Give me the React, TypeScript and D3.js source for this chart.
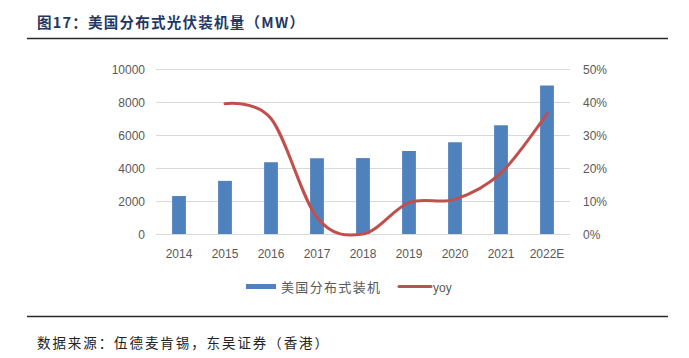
import { useEffect, useRef } from "react";
import * as d3 from "d3";

const YEARS = ["2014", "2015", "2016", "2017", "2018", "2019", "2020", "2021", "2022E"];
const CAPACITY = [2300, 3220, 4350, 4590, 4600, 5030, 5560, 6590, 9000];
const YOY_YEARS = ["2015", "2016", "2017", "2018", "2019", "2020", "2021", "2022E"];
const YOY = [0.395, 0.35, 0.05, 0.0, 0.095, 0.105, 0.185, 0.365];
const LEFT_TICKS = [0, 2000, 4000, 6000, 8000, 10000];
const RIGHT_TICKS = [0, 0.1, 0.2, 0.3, 0.4, 0.5];

const W = 689, H = 358;
const PLOT = { left: 156, right: 570, top: 69, bottom: 234 };
const BAR = "#4f81bd";
const LINE = "#c0504d";
const AXIS_TXT = "#595959";
const FONT = "'Liberation Sans', Arial, sans-serif";
const CJK = "'Noto Sans CJK SC', sans-serif";

export default function App() {
  const ref = useRef<SVGSVGElement>(null);

  useEffect(() => {
    if (!ref.current) return;
    const svg = d3.select(ref.current);
    svg.selectAll("*").remove();

    const x = d3.scaleBand().domain(YEARS).range([PLOT.left, PLOT.right]).paddingInner(0.7).paddingOuter(0.35);
    const y = d3.scaleLinear().domain([0, 10000]).range([PLOT.bottom, PLOT.top]);
    const y2 = d3.scaleLinear().domain([0, 0.5]).range([PLOT.bottom, PLOT.top]);
    const cx = (k: string) => x(k)! + x.bandwidth() / 2;

    // title + rules
    svg.append("text").attr("x", 37).attr("y", 28).attr("font-family", CJK)
      .attr("font-size", "14.5px").attr("font-weight", "700").attr("fill", "#1f3864")
      .attr("textLength", 267).attr("lengthAdjust", "spacing")
      .text("图17：美国分布式光伏装机量（MW）");
    svg.append("line").attr("x1", 27).attr("x2", 668).attr("y1", 38.5).attr("y2", 38.5)
      .attr("stroke", "#2b2b2b").attr("stroke-width", 1.6);
    svg.append("line").attr("x1", 27).attr("x2", 668).attr("y1", 316.5).attr("y2", 316.5)
      .attr("stroke", "#2b2b2b").attr("stroke-width", 1.6);
    svg.append("text").attr("x", 37).attr("y", 348).attr("font-family", CJK)
      .attr("font-size", "13.5px").attr("fill", "#222")
      .attr("textLength", 291).attr("lengthAdjust", "spacing")
      .text("数据来源：伍德麦肯锡，东吴证券（香港）");

    // grid
    svg.append("g").selectAll("line").data(LEFT_TICKS).join("line")
      .attr("x1", PLOT.left).attr("x2", PLOT.right)
      .attr("y1", d => Math.round(y(d)) + 0.5).attr("y2", d => Math.round(y(d)) + 0.5)
      .attr("stroke", "#d9d9d9").attr("stroke-width", 1);

    // bars
    svg.append("g").selectAll("rect").data(CAPACITY).join("rect")
      .attr("x", (_, i) => x(YEARS[i])!).attr("width", x.bandwidth())
      .attr("y", d => y(d)).attr("height", d => y(0) - y(d))
      .attr("fill", BAR);

    // yoy line (smoothed like Excel)
    const line = d3.line<number>()
      .x((_, i) => cx(YOY_YEARS[i]))
      .y(d => y2(d))
      .curve(d3.curveCatmullRom.alpha(0));
    svg.append("path").datum(YOY).attr("d", line).attr("fill", "none")
      .attr("stroke", LINE).attr("stroke-width", 3).attr("stroke-linecap", "round");

    // axes labels
    svg.append("g").selectAll("text").data(LEFT_TICKS).join("text")
      .attr("x", 145).attr("y", d => y(d) + 4.5).attr("text-anchor", "end")
      .attr("font-family", FONT).attr("font-size", "12px").attr("fill", AXIS_TXT)
      .text(d => String(d));
    svg.append("g").selectAll("text").data(RIGHT_TICKS).join("text")
      .attr("x", 583).attr("y", d => y2(d) + 4.5)
      .attr("font-family", FONT).attr("font-size", "12px").attr("fill", AXIS_TXT)
      .text(d => d3.format(".0%")(d));
    svg.append("g").selectAll("text").data(YEARS).join("text")
      .attr("x", d => cx(d)).attr("y", 258).attr("text-anchor", "middle")
      .attr("font-family", FONT).attr("font-size", "12px").attr("fill", AXIS_TXT)
      .text(d => d);

    // legend
    const lg = svg.append("g");
    lg.append("rect").attr("x", 246).attr("y", 284).attr("width", 30).attr("height", 5).attr("fill", BAR);
    lg.append("text").attr("x", 281).attr("y", 292).attr("font-family", CJK).attr("font-size", "13px")
      .attr("fill", AXIS_TXT).attr("textLength", 99).attr("lengthAdjust", "spacing").text("美国分布式装机");
    lg.append("line").attr("x1", 399).attr("x2", 431).attr("y1", 286.5).attr("y2", 286.5)
      .attr("stroke", LINE).attr("stroke-width", 3).attr("stroke-linecap", "round");
    lg.append("text").attr("x", 433).attr("y", 291.5).attr("font-family", FONT).attr("font-size", "12px")
      .attr("fill", AXIS_TXT).text("yoy");
  }, []);

  return <svg ref={ref} width={W} height={H} style={{ position: "absolute", left: 0, top: 0, background: "#fff" }} />;
}
